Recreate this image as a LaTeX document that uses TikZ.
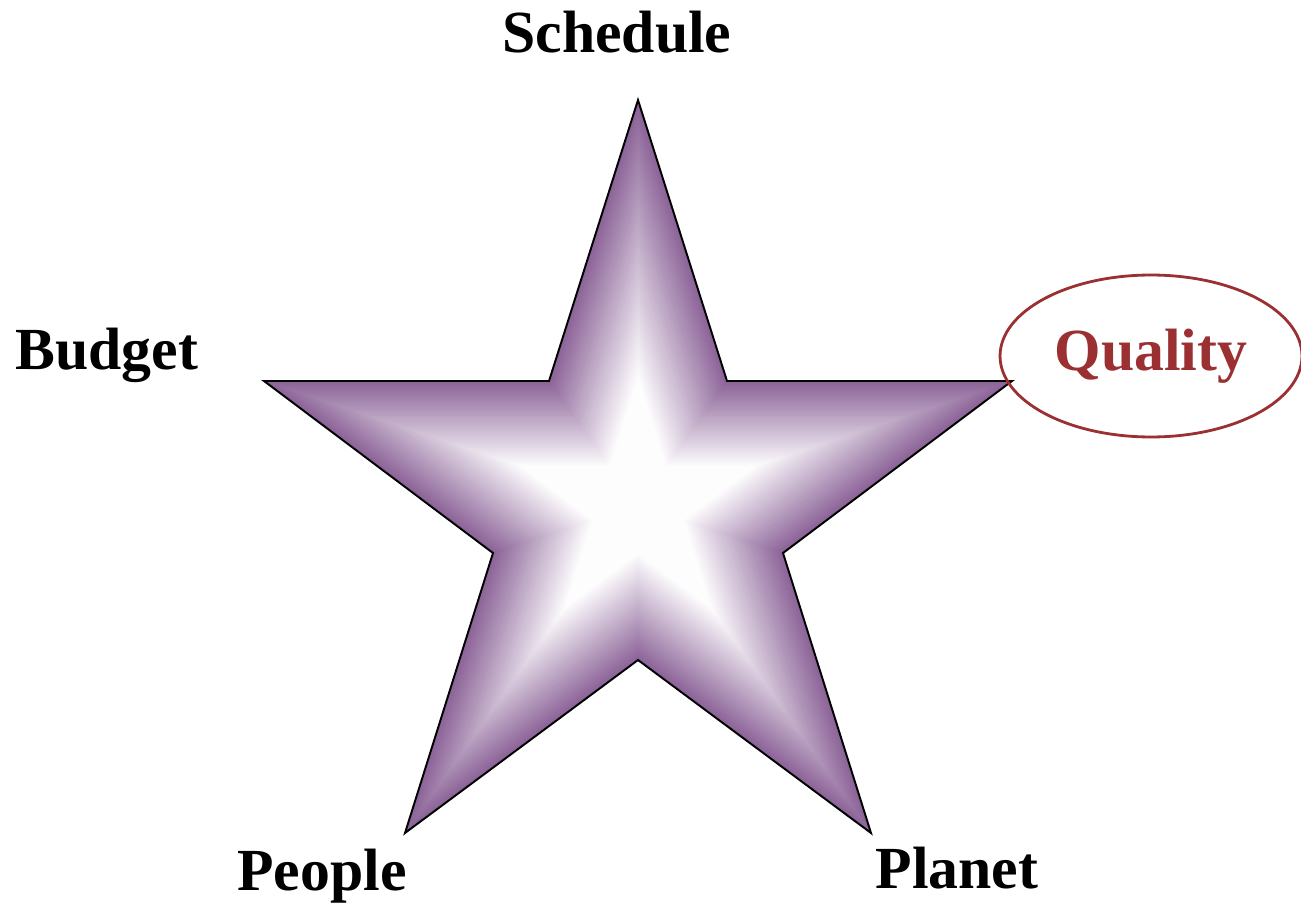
\documentclass[tikz,border=0pt]{standalone}
\usepackage{fontspec}
\setmainfont{Liberation Serif}
\usetikzlibrary{shapes.geometric}
\definecolor{starPurple}{RGB}{140,100,152}
\definecolor{qualRed}{RGB}{155,48,50}

\begin{document}
\begin{tikzpicture}[x=0.02cm,y=-0.02cm,
    label/.style={font=\fontsize{34}{40}\selectfont\bfseries,anchor=base},
    qual/.style={draw=qualRed,line width=1.6pt,ellipse,minimum width=6.04cm,minimum height=3.24cm,text=qualRed,font=\fontsize{34}{40}\selectfont\bfseries}
  ]
    \useasboundingbox (0,0) rectangle (1301,905);

    % shaded star, one layer per step
    \foreach \k [evaluate=\k as \s using 1-\k*0.02, evaluate=\k as \p using 100-\k*2.9] in {0,...,34}
      \fill[starPurple!\p!white,shift={(638,505)},scale=\s]
        (0,-405) -- (89,-124) -- (374,-124) -- (145,48) -- (233,328) -- (0,155)
        -- (-233,328) -- (-145,48) -- (-374,-124) -- (-89,-124) -- cycle;
    \draw[line width=1.1pt,line join=miter,shift={(638,505)}]
        (0,-405) -- (89,-124) -- (374,-124) -- (145,48) -- (233,328) -- (0,155)
        -- (-233,328) -- (-145,48) -- (-374,-124) -- (-89,-124) -- cycle;

    \node[label] (sched) at (617,53) {Schedule};
    \node[label] (budget) at (107,370) {Budget};
    \node[label] (people) at (322,890) {People};
    \node[label] (planet) at (957,888) {Planet};
    \node[qual] (quality) at (1151,356) {Quality};
  \end{tikzpicture}
\end{document}
